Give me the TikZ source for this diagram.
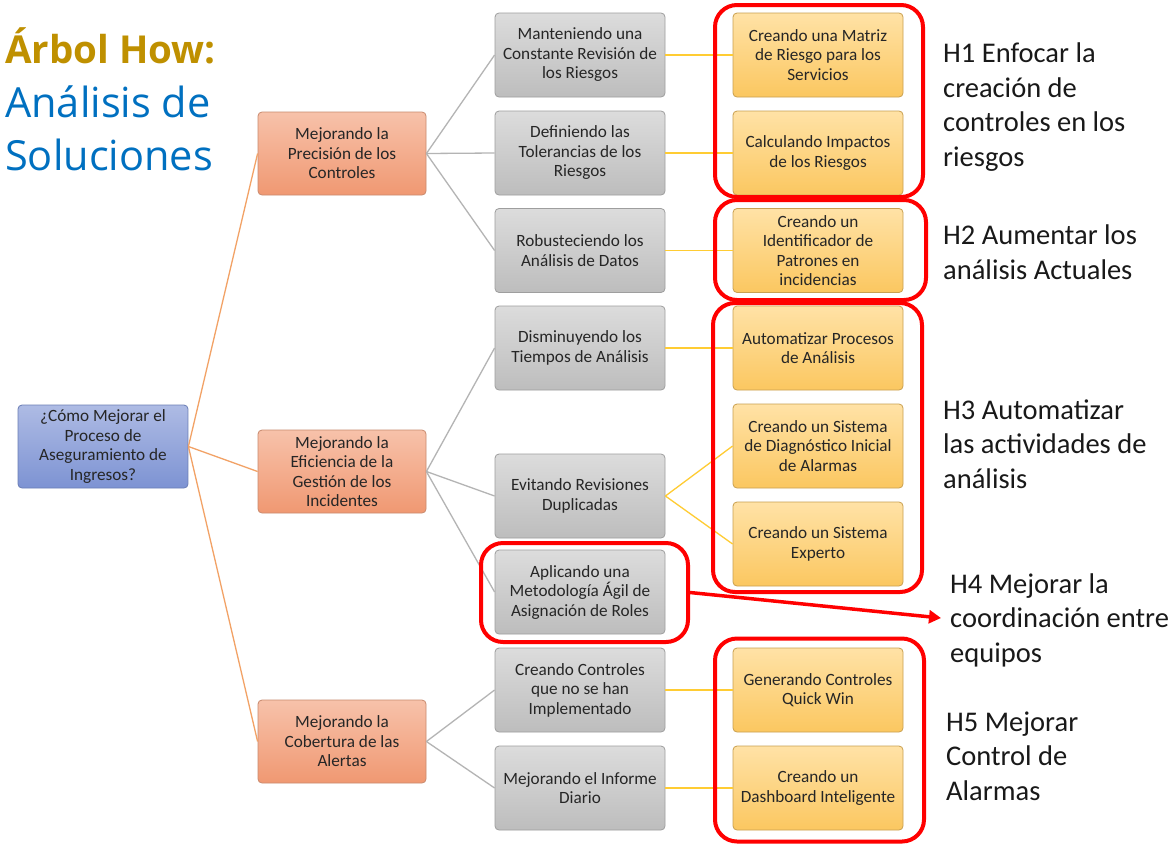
\documentclass[tikz,border=0pt]{standalone}
\usepackage{fontspec}
\setmainfont{Carlito}
\newfontfamily\titlefont{Open Sans}
\usetikzlibrary{arrows.meta}

\definecolor{rootTop}{HTML}{AEBBE4}
\definecolor{rootBot}{HTML}{7D93D3}
\definecolor{rootLine}{HTML}{6A7DB5}
\definecolor{lvlOneTop}{HTML}{F7C2AA}
\definecolor{lvlOneBot}{HTML}{F09872}
\definecolor{lvlOneLine}{HTML}{C98A6E}
\definecolor{lvlTwoTop}{HTML}{DCDCDC}
\definecolor{lvlTwoBot}{HTML}{BDBDBD}
\definecolor{lvlTwoLine}{HTML}{9E9E9E}
\definecolor{lvlThreeTop}{HTML}{FFE2A6}
\definecolor{lvlThreeBot}{HTML}{FBC760}
\definecolor{lvlThreeLine}{HTML}{C9A050}
\definecolor{linkOrange}{HTML}{F2A266}
\definecolor{linkGray}{HTML}{B4B4B4}
\definecolor{linkYellow}{HTML}{FFCC33}
\definecolor{markRed}{HTML}{FF0000}
\definecolor{titleGold}{HTML}{BF9000}
\definecolor{titleBlue}{HTML}{0070C0}

\tikzset{
  box/.style={rectangle, rounded corners=4pt, align=center, inner sep=1pt,
    font=\fontsize{17.2}{19.5}\selectfont, text=black!85, line width=0.8pt},
  rootbox/.style={box, minimum width=170pt, minimum height=83pt,
    top color=rootTop, bottom color=rootBot, draw=rootLine},
  onebox/.style={box, minimum width=168pt, minimum height=83pt,
    top color=lvlOneTop, bottom color=lvlOneBot, draw=lvlOneLine},
  twobox/.style={box, minimum width=170pt, minimum height=84pt,
    top color=lvlTwoTop, bottom color=lvlTwoBot, draw=lvlTwoLine},
  threebox/.style={box, minimum width=170pt, minimum height=84pt,
    top color=lvlThreeTop, bottom color=lvlThreeBot, draw=lvlThreeLine},
  redframe/.style={rectangle, draw=markRed, line width=4pt, rounded corners=22pt, inner sep=0pt},
  linkA/.style={draw=linkOrange, line width=1.3pt},
  linkB/.style={draw=linkGray, line width=1.3pt},
  linkC/.style={draw=linkYellow, line width=1.3pt},
  hlabel/.style={anchor=west, align=left, inner sep=0pt,
    font=\fontsize{28.5}{34.5}\selectfont, text=black!90},
  titleline/.style={anchor=base west, inner sep=0pt, font=\titlefont\fontsize{41.5}{48}\selectfont}
}

\begin{document}
\begin{tikzpicture}[x=1pt,y=-1pt]
\useasboundingbox (0,0) rectangle (1175,844);
\fill[white] (0,0) rectangle (1175,844);

% title
\node[titleline, text=titleGold, font=\titlefont\bfseries\fontsize{38.5}{48}\selectfont] (t1) at (5,63) {Árbol How:};
\node[titleline, text=titleBlue] (t2) at (5,117) {Análisis de};
\node[titleline, text=titleBlue] (t3) at (5,170) {Soluciones};

% root
\node[rootbox] (root) at (103,446.5) {¿Cómo Mejorar el\\Proceso de\\Aseguramiento de\\Ingresos?};

% first level
\node[onebox] (pa) at (342,153.5) {Mejorando la\\Precisión de los\\Controles};
\node[onebox] (pb) at (342,471.5) {Mejorando la\\Eficiencia de la\\Gestión de los\\Incidentes};
\node[onebox] (pc) at (342,741.5) {Mejorando la\\Cobertura de las\\Alertas};

% second level
\node[twobox] (a1) at (580,55) {Manteniendo una\\Constante Revisión de\\los Riesgos};
\node[twobox] (a2) at (580,153) {Definiendo las\\Tolerancias de los\\Riesgos};
\node[twobox] (a3) at (580,250.5) {Robusteciendo los\\Análisis de Datos};
\node[twobox] (b1) at (580,348) {Disminuyendo los\\Tiempos de Análisis};
\node[twobox] (b2) at (580,496) {Evitando Revisiones\\Duplicadas};
\node[twobox] (b3) at (580,592) {Aplicando una\\Metodología Ágil de\\Asignación de Roles};
\node[twobox] (c1) at (580,690) {Creando Controles\\que no se han\\Implementado};
\node[twobox] (c2) at (580,788) {Mejorando el Informe\\Diario};

% third level
\node[threebox] (y1) at (818,55) {Creando una Matriz\\de Riesgo para los\\Servicios};
\node[threebox] (y2) at (818,153) {Calculando Impactos\\de los Riesgos};
\node[threebox] (y3) at (818,250.5) {Creando un\\Identificador de\\Patrones en\\incidencias};
\node[threebox] (y4) at (818,348) {Automatizar Procesos\\de Análisis};
\node[threebox] (y5) at (818,446) {Creando un Sistema\\de Diagnóstico Inicial\\de Alarmas};
\node[threebox] (y6) at (818,544) {Creando un Sistema\\Experto};
\node[threebox] (y7) at (818,690) {Generando Controles\\Quick Win};
\node[threebox] (y8) at (818,788) {Creando un\\Dashboard Inteligente};

% connectors
\path[linkA] (root.east) -- (pa.west);
\path[linkA] (root.east) -- (pb.west);
\path[linkA] (root.east) -- (pc.west);
\path[linkB] (pa.east) -- (a1.west);
\path[linkB] (pa.east) -- (a2.west);
\path[linkB] (pa.east) -- (a3.west);
\path[linkB] (pb.east) -- (b1.west);
\path[linkB] (pb.east) -- (b2.west);
\path[linkB] (pb.east) -- (b3.west);
\path[linkB] (pc.east) -- (c1.west);
\path[linkB] (pc.east) -- (c2.west);
\path[linkC] (a1.east) -- (y1.west);
\path[linkC] (a2.east) -- (y2.west);
\path[linkC] (a3.east) -- (y3.west);
\path[linkC] (b1.east) -- (y4.west);
\path[linkC] (b2.east) -- (y5.west);
\path[linkC] (b2.east) -- (y6.west);
\path[linkC] (c1.east) -- (y7.west);
\path[linkC] (c2.east) -- (y8.west);

% highlight frames
\node[redframe, minimum width=208pt, minimum height=192pt] (r1) at (819,101) {};
\node[redframe, minimum width=211pt, minimum height=100pt] (r2) at (820.5,250) {};
\node[redframe, minimum width=209pt, minimum height=289pt] (r3) at (817.5,447.5) {};
\node[redframe, minimum width=207pt, minimum height=99pt] (r4) at (584.5,592.5) {};
\node[redframe, minimum width=209pt, minimum height=203pt] (r5) at (819.5,740) {};

\coordinate (h4tip) at (941,618);
\draw[markRed, line width=3.5pt, -{Triangle[length=12pt,width=13pt]}] (r4.east) -- (h4tip);

% hypotheses
\node[hlabel] (h1) at (943,107) {H1 Enfocar la\\creación de\\controles en los\\riesgos};
\node[hlabel] (h2) at (943,252) {H2 Aumentar los\\análisis Actuales};
\node[hlabel] (h3) at (943,444) {H3 Automatizar\\las actividades de\\análisis};
\node[hlabel] (h4) at (950,620) {H4 Mejorar la\\coordinación entre\\equipos};
\node[hlabel] (h5) at (946,756) {H5 Mejorar\\Control de\\Alarmas};
\end{tikzpicture}
\end{document}
